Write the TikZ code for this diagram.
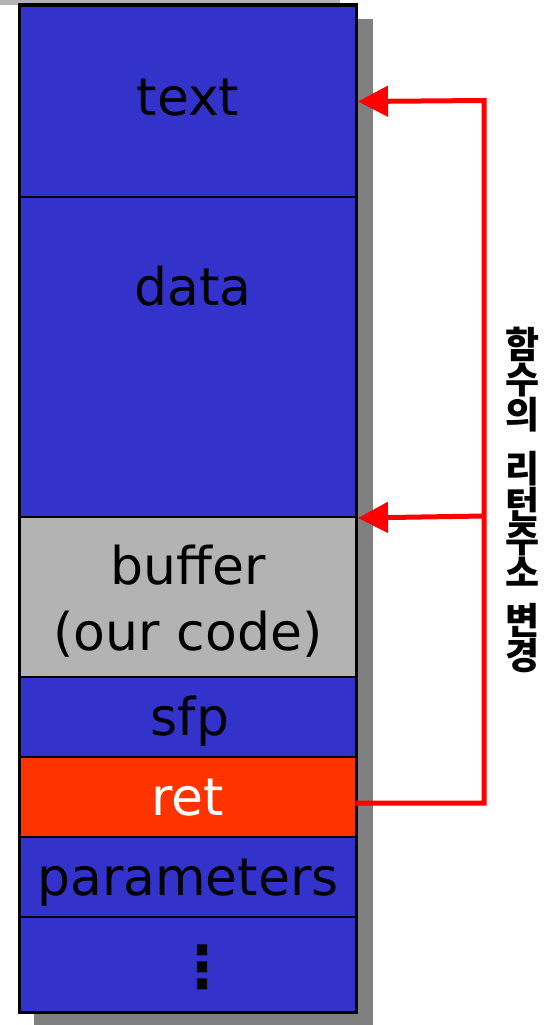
\documentclass[tikz,border=0pt]{standalone}
\usepackage{fontspec}
\setmainfont{DejaVu Sans}
\newfontfamily\krfont{Noto Sans CJK KR}
\usetikzlibrary{arrows.meta}
\definecolor{segblue}{HTML}{3333CC}
\definecolor{seggray}{HTML}{B3B3B3}
\definecolor{segred}{HTML}{FF3300}
\definecolor{shadowgray}{HTML}{808080}
\definecolor{arrowred}{HTML}{FF0000}
\tikzset{
  seg/.style={draw=black, line width=2pt, minimum width=337pt, inner sep=0pt, anchor=north west},
  lbl/.style={font=\fontsize{52}{60}\selectfont, anchor=base, inner sep=0pt},
  redline/.style={draw=arrowred, line width=5pt, line join=miter},
  redarrow/.style={redline, -{Triangle[length=30pt,width=30pt]}},
}
\begin{document}
\begin{tikzpicture}[x=1pt,y=-1pt]
\useasboundingbox (0,0) rectangle (555,1025);
% strip along the top edge
\fill[seggray] (0,0) rectangle (340,5);
% drop shadow behind the stack
\fill[shadowgray] (34,19) rectangle (373,1025);
% memory segments, top to bottom
\node[seg, fill=segblue, minimum height=191pt] (text) at (19,5) {};
\node[seg, fill=segblue, minimum height=320pt] (data) at (19,196) {};
\node[seg, fill=seggray, minimum height=160pt] (buffer) at (19,516) {};
\node[seg, fill=segblue, minimum height=80pt] (sfp) at (19,676) {};
\node[seg, fill=segred, minimum height=80pt] (ret) at (19,756) {};
\node[seg, fill=segblue, minimum height=80pt] (params) at (19,836) {};
\node[seg, fill=segblue, minimum height=96pt] (rest) at (19,916) {};
% outer frame
\draw[line width=3pt] (19,5) rectangle (356,1012);
% segment labels
\node[lbl] (ltext) at (188,115) {text};
\node[lbl] (ldata) at (193,305) {data};
\node[lbl] (lbuf) at (188,584) {buffer};
\node[lbl] (lcode) at (188,650) {(our code)};
\node[lbl] (lsfp) at (190,735) {sfp};
\node[lbl, text=white] (lret) at (188,815) {ret};
\node[lbl] (lparams) at (188,895) {parameters};
\node[font=\bfseries\fontsize{58}{58}\selectfont, inner sep=0pt] (ldots) at (202,967) {⋮};
% return address redirection
\coordinate (retout) at (356,803);
\coordinate (turn) at (484,803);
\coordinate (up) at (484,100.5);
\coordinate (mid) at (484,516);
\draw[redarrow] (retout) -- (turn) -- (up) -- (text.east);
\draw[redarrow] (mid) -- (data.south east);
\node[font=\krfont\bfseries\fontsize{37}{32}\selectfont, align=center, inner sep=0pt] (note) at (523,500)
  {함\\수\\의\\[18pt]리\\턴\\주\\소\\[16pt]변\\경};
\end{tikzpicture}
\end{document}
